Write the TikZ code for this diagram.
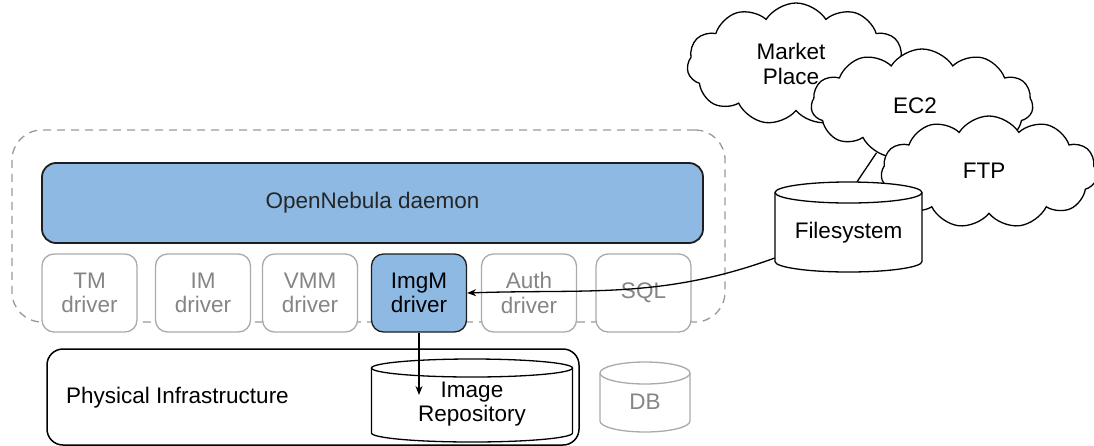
\documentclass[tikz,border=0pt]{standalone}
\usepackage{fontspec}
\setmainfont{Liberation Sans}
\usetikzlibrary{shapes.symbols,arrows.meta}
\definecolor{nebblue}{HTML}{8DB9E3}
\definecolor{drvgray}{HTML}{AAAAAA}
\definecolor{txtgray}{HTML}{858585}
\definecolor{dashgray}{HTML}{999999}
\definecolor{darkline}{HTML}{1E1E1E}
% cylinder outline: #1 cx, #2 cy, #3 half width, #4 half height, #5 ry, #6 style
\newcommand\mycylinder[6]{%
  \path[#6] (#1-#3,#2-#4+#5) -- (#1-#3,#2+#4-#5)
    arc[start angle=180,end angle=360,x radius=#3pt,y radius=#5pt]
    -- (#1+#3,#2-#4+#5)
    arc[start angle=0,end angle=180,x radius=#3pt,y radius=#5pt] -- cycle;
  \path[#6,fill=none] (#1+#3,#2-#4+#5)
    arc[start angle=0,end angle=-180,x radius=#3pt,y radius=#5pt];
}
\begin{document}
\begin{tikzpicture}[x=1pt,y=-1pt,
  lbl/.style={font=\fontsize{22.5}{24.5}\selectfont, align=center, inner sep=0pt},
  drv/.style={lbl, draw=drvgray, line width=1.3pt, rounded corners=12pt, fill=white,
    text=txtgray, minimum width=95pt, minimum height=78pt},
  drvon/.style={drv, draw=darkline, fill=nebblue, text=black},
  cloudbox/.style={lbl, cloud, cloud puffs=11, cloud puff arc=115, draw=black,
    line width=1.3pt, fill=white},
  cylbody/.style={draw=black, line width=1.3pt, fill=white},
  cylgray/.style={draw=drvgray, line width=1.3pt, fill=white},
  conn/.style={draw=black, line width=1.3pt},
  arr/.style={conn, -{Stealth[length=9pt,width=7pt]}},
]
\useasboundingbox (0,0) rectangle (1094,445);

% dashed container
\node[draw=dashgray, dash pattern=on 8pt off 6pt, line width=1.3pt, rounded corners=30pt,
  minimum width=713pt, minimum height=192pt, inner sep=0pt] (core) at (368.5,226) {};

% daemon
\node[lbl, draw=darkline, line width=1.8pt, fill=nebblue, rounded corners=14pt,
  minimum width=661pt, minimum height=80pt, text=black!85] (daemon) at (372.5,203) {OpenNebula daemon};

% drivers
\node[drv]   (tm)   at (89.5,293)  {TM\\driver};
\node[drv]   (im)   at (203,293)   {IM\\driver};
\node[drv]   (vmm)  at (310,293)   {VMM\\driver};
\node[drvon] (imgm) at (419,293)   {ImgM\\driver};
\node[drv]   (auth) at (529,293)   {Auth\\driver};
\node[drv]   (sql)  at (643.5,293) {SQL};

% physical infrastructure
\node[draw=black, line width=1.5pt, rounded corners=16pt, minimum width=532pt,
  minimum height=96pt, inner sep=0pt] (phys) at (313,397) {};
\node[lbl] (physlbl) at (177.5,398) {Physical Infrastructure};

% image repository cylinder
\mycylinder{472}{400.5}{100.5}{41.5}{9}{cylbody}
\node[inner sep=0pt, minimum width=201pt, minimum height=83pt] (repo) at (472,400.5) {};
\node[lbl] (repolbl) at (472,404) {Image\\Repository};

% DB cylinder
\mycylinder{645}{397}{45}{35}{11}{cylgray}
\node[lbl, text=txtgray] (db) at (645,402) {DB};

% clouds
\node[cloudbox, minimum width=218pt, minimum height=122pt] (market) at (796,64) {};
\node[lbl] (marketlbl) at (791,64) {Market\\Place};
\node[cloudbox, minimum width=222pt, minimum height=110pt] (ec2) at (922,104) {};
\node[lbl] (ec2lbl) at (915,106) {EC2};
\node[cloudbox, minimum width=216pt, minimum height=112pt] (ftp) at (989,172) {};
\node[lbl] (ftplbl) at (984,171) {FTP};

% filesystem cylinder
\mycylinder{848.5}{227}{73.5}{45}{10.5}{cylbody}
\node[inner sep=0pt, minimum width=147pt, minimum height=90pt] (fs) at (848.5,227) {};
\node[lbl] (fslbl) at (848.5,233) {Filesystem};

% connectors
\coordinate (repoin) at (419,395);
\draw[conn] ([xshift=8.5pt]fs.north) -- (ec2.227);
\draw[arr] ([yshift=-31pt]fs.west) to[out=200,in=2] (imgm.east);
\draw[arr] (imgm.south) -- (repoin);
\end{tikzpicture}
\end{document}
